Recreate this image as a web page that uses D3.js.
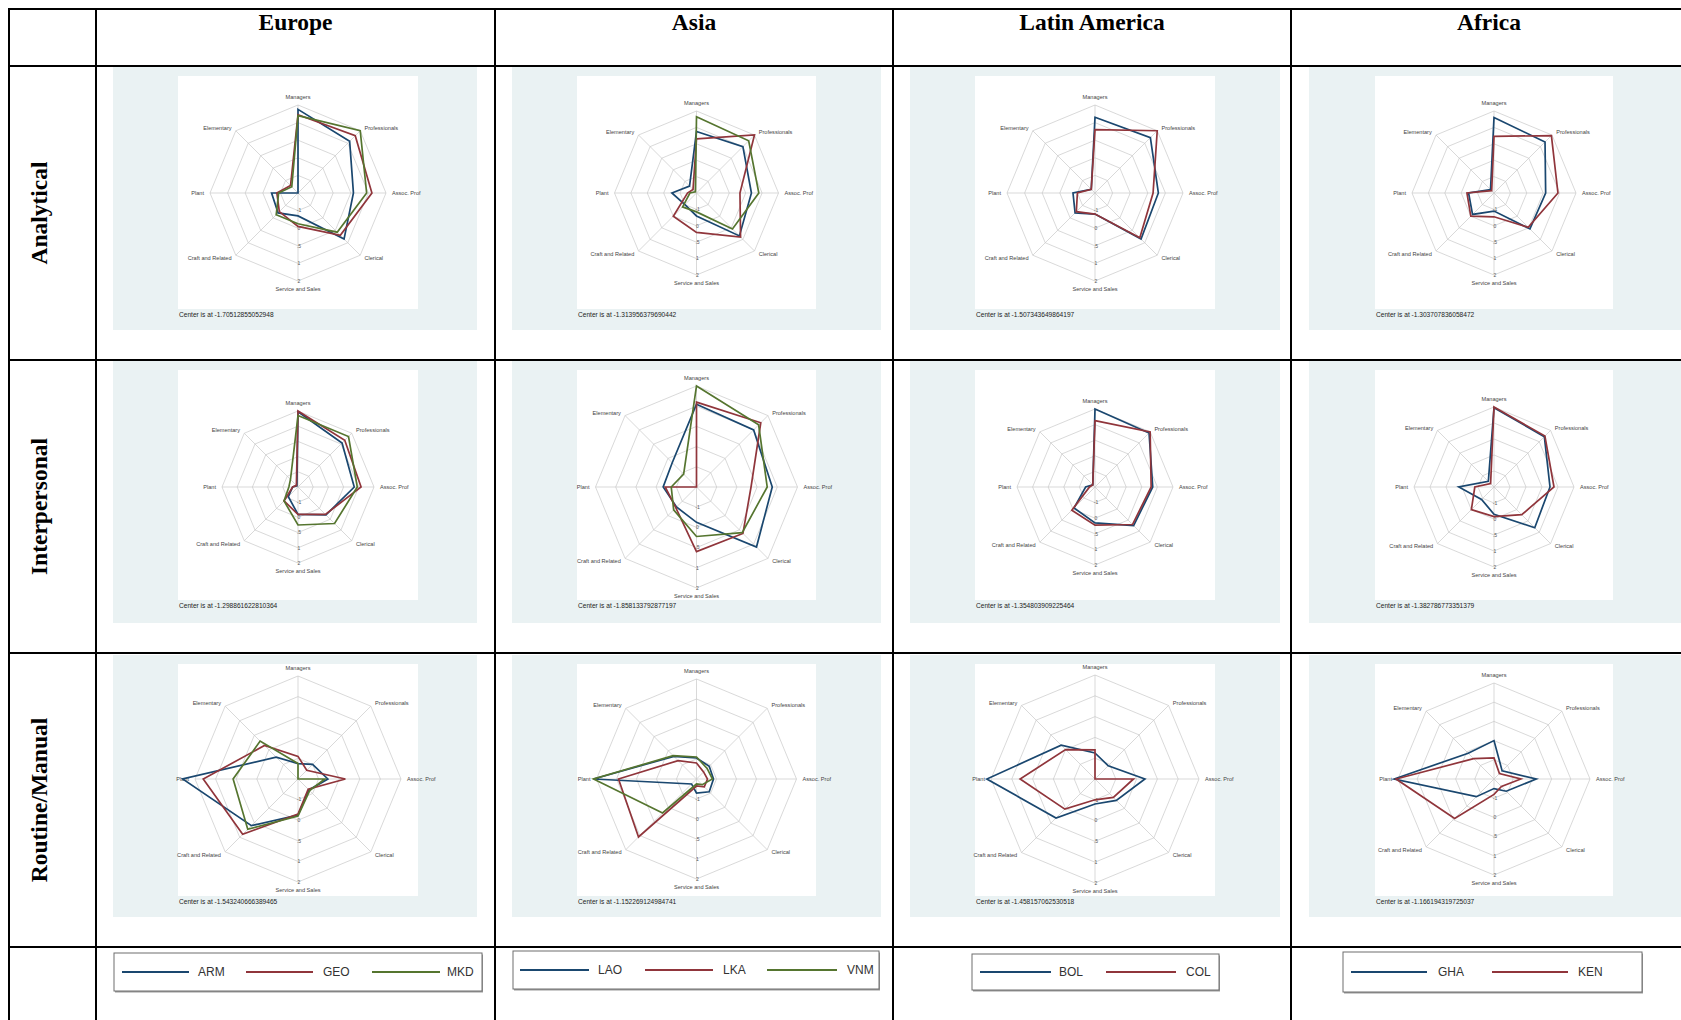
<!DOCTYPE html>
<html>
<head>
<meta charset="utf-8">
<script src="https://cdn.jsdelivr.net/npm/d3@7"></script>
<style>
  html, body { margin: 0; padding: 0; background: #ffffff; }
  svg { display: block; }
</style>
</head>
<body>
<svg id="chart" width="1681" height="1020"></svg>
<script>
// ---------------- DATA ----------------
const regions = ["Europe", "Asia", "Latin America", "Africa"];
const dimensions = ["Analytical", "Interpersonal", "Routine/Manual"];
const occupations = ["Managers", "Professionals", "Assoc. Prof", "Clerical",
                     "Service and Sales", "Craft and Related", "Plant", "Elementary"];
const ringLabels = ["-1", "0", ".5", "1", "2"];
const ringValues = [1, 2, 3, 4, 5];

const europeCountries = ["ARM", "GEO", "MKD"];
const asiaCountries = ["LAO", "LKA", "VNM"];
const latamCountries = ["BOL", "COL"];
const africaCountries = ["GHA", "KEN"];

// values in ring units (0 = centre, 5 = outer ring), order = occupations
const europeAnalytical = [
  [4.75, 4.15, 3.15, 3.7, 1.3, 1.6, 1.5, 0.0],
  [4.45, 4.6, 4.2, 3.4, 1.9, 1.5, 1.2, 0.6],
  [4.4, 5.0, 3.9, 3.15, 1.75, 1.75, 1.1, 0.5]
];
const europeInterpersonal = [
  [4.95, 4.1, 3.7, 2.6, 1.8, 0.9, 0.35, 0.1],
  [5.0, 4.35, 4.15, 2.55, 1.8, 1.3, 0.35, 0.15],
  [4.7, 4.7, 3.9, 3.4, 2.5, 1.3, 0.6, 0.7]
];
const europeRoutine = [
  [0.75, 1.0, 1.45, 0.75, 1.75, 3.2, 5.6, 1.5],
  [1.1, 0.6, 2.3, 0.7, 1.7, 3.8, 4.6, 2.3],
  [0.75, 0.0, 1.3, 0.8, 1.8, 3.45, 3.15, 2.6]
];
const asiaAnalytical = [
  [3.75, 4.0, 3.35, 3.7, 1.4, 1.0, 1.5, 0.6],
  [3.3, 5.0, 2.65, 3.8, 2.4, 2.0, 0.55, 0.3],
  [4.65, 4.5, 3.8, 3.1, 1.15, 1.2, 0.4, 0.1]
];
const asiaInterpersonal = [
  [4.1, 4.0, 3.75, 4.2, 1.75, 1.4, 1.65, 1.7],
  [4.2, 4.5, 2.7, 3.25, 3.2, 1.45, 1.55, 0.0],
  [5.0, 4.35, 3.5, 3.2, 2.45, 1.6, 1.25, 0.9]
];
const asiaRoutine = [
  [1.05, 0.9, 0.85, 0.9, 0.7, 0.35, 5.15, 1.6],
  [0.8, 0.5, 0.55, 0.55, 0.35, 4.1, 3.9, 1.3],
  [1.1, 0.75, 0.8, 0.4, 0.25, 2.4, 5.15, 1.65]
];
const latamAnalytical = [
  [4.3, 4.45, 3.6, 3.7, 1.2, 1.6, 1.25, 0.3],
  [3.6, 5.0, 3.3, 3.6, 1.2, 1.5, 1.0, 0.3]
];
const latamInterpersonal = [
  [5.0, 4.9, 3.7, 3.5, 2.3, 1.9, 0.6, 0.2],
  [4.25, 5.0, 3.6, 3.4, 2.45, 2.1, 0.35, 0.2]
];
const latamRoutine = [
  [1.25, 0.9, 2.4, 1.45, 1.2, 2.65, 5.2, 2.3],
  [1.4, 0.0, 1.85, 1.25, 1.0, 2.05, 3.6, 2.0]
];
const africaAnalytical = [
  [4.6, 4.4, 3.15, 3.1, 1.1, 1.85, 1.55, 0.3],
  [3.45, 4.95, 3.9, 2.95, 1.45, 2.0, 1.65, 0.2]
];
const africaInterpersonal = [
  [4.95, 4.45, 3.5, 3.6, 1.7, 1.1, 2.2, 0.5],
  [5.0, 4.5, 3.75, 2.45, 1.85, 2.0, 1.2, 0.3]
];
const africaRoutine = [
  [2.0, 0.6, 2.2, 0.9, 0.5, 1.3, 5.2, 1.9],
  [1.1, 0.4, 1.4, 0.55, 0.8, 2.9, 5.1, 1.5]
];

const europeCenters = ["-1.70512855052948", "-1.298861622810364", "-1.543240666389465"];
const asiaCenters = ["-1.313956379690442", "-1.858133792877197", "-1.152269124984741"];
const latamCenters = ["-1.507343649864197", "-1.354803909225464", "-1.458157062530518"];
const africaCenters = ["-1.303707836058472", "-1.382786773351379", "-1.166194319725037"];

// ---------------- ASSEMBLY ----------------
const regionCountries = [europeCountries, asiaCountries, latamCountries, africaCountries];
const regionPanels = [
  [europeAnalytical, europeInterpersonal, europeRoutine],
  [asiaAnalytical, asiaInterpersonal, asiaRoutine],
  [latamAnalytical, latamInterpersonal, latamRoutine],
  [africaAnalytical, africaInterpersonal, africaRoutine]
];
const regionCenters = [europeCenters, asiaCenters, latamCenters, africaCenters];

// ---------------- LAYOUT / STYLE ----------------
const colors = ["#1a476f", "#90353b", "#55752f"];
const colLines = [9, 96, 495, 893, 1291, 1687];
const rowLines = [9, 66, 360, 653, 947, 1040];
const greyX = [[113, 477], [512, 881], [910, 1280], [1309, 1700]];
const greyY = [[67, 330], [361, 623], [655, 917]];
const whiteX = [[178, 418], [577, 816], [975, 1215], [1375, 1613]];
const whiteY = [[76, 309], [370, 600], [664, 896]];
const radarCY = [193, 487, 779];
const radarR = [
  [88, 76, 103],
  [82, 101, 100],
  [88, 78, 104],
  [82, 80, 96]
];
const legendBoxes = [
  {box: [114, 953, 482, 991], y: 972, items: [[122, 189, 198], [246, 313, 323], [372, 440, 447]]},
  {box: [513, 951, 879, 989], y: 970, items: [[520, 589, 598], [645, 713, 723], [767, 837, 847]]},
  {box: [972, 954, 1219, 990], y: 972, items: [[980, 1051, 1059], [1106, 1176, 1186]]},
  {box: [1343, 952, 1642, 992], y: 972, items: [[1351, 1427, 1438], [1492, 1568, 1578]]}
];

const svg = d3.select("#chart");
const sans = "'Liberation Sans', Arial, sans-serif";
const serif = "'Liberation Serif', 'Times New Roman', serif";

// grey panels and white plot regions
regions.forEach((reg, c) => {
  dimensions.forEach((dim, r) => {
    svg.append("rect")
      .attr("x", greyX[c][0]).attr("y", greyY[r][0])
      .attr("width", greyX[c][1] - greyX[c][0]).attr("height", greyY[r][1] - greyY[r][0])
      .attr("fill", "#eaf2f3");
    svg.append("rect")
      .attr("x", whiteX[c][0]).attr("y", whiteY[r][0])
      .attr("width", whiteX[c][1] - whiteX[c][0]).attr("height", whiteY[r][1] - whiteY[r][0])
      .attr("fill", "#ffffff");
  });
});

// radar charts
const nAx = occupations.length;
const angle = i => i * 2 * Math.PI / nAx;

regions.forEach((reg, c) => {
  dimensions.forEach((dim, r) => {
    const cx = (whiteX[c][0] + whiteX[c][1]) / 2;
    const cy = radarCY[r];
    const R = radarR[c][r];
    const rScale = d3.scaleLinear().domain([0, 5]).range([0, R]);
    const g = svg.append("g").attr("transform", `translate(${cx},${cy})`);
    const px = (v, i) => rScale(v) * Math.sin(angle(i));
    const py = (v, i) => -rScale(v) * Math.cos(angle(i));
    const ringLine = d3.line()
      .x((d, i) => px(d, i)).y((d, i) => py(d, i))
      .curve(d3.curveLinearClosed);

    // rings
    ringValues.forEach(rv => {
      g.append("path")
        .attr("d", ringLine(occupations.map(() => rv)))
        .attr("fill", "none").attr("stroke", "#c9c9c9").attr("stroke-width", 0.7);
    });
    // spokes
    occupations.forEach((o, i) => {
      g.append("line")
        .attr("x1", 0).attr("y1", 0)
        .attr("x2", px(5, i)).attr("y2", py(5, i))
        .attr("stroke", "#c9c9c9").attr("stroke-width", 0.7);
    });
    // ring labels along the Service and Sales axis
    ringValues.forEach((rv, k) => {
      g.append("text")
        .attr("x", 1).attr("y", rScale(rv))
        .attr("dy", "0.35em")
        .attr("text-anchor", "middle")
        .attr("font-family", sans).attr("font-size", 5)
        .attr("fill", "#555")
        .text(ringLabels[k]);
    });
    // occupation labels
    occupations.forEach((o, i) => {
      const a = angle(i);
      const sx = Math.sin(a), sy = -Math.cos(a);
      let x = px(5, i), y = py(5, i), anchor = "middle";
      if (Math.abs(sx) < 0.01) { y += sy * 8; }
      else if (Math.abs(sy) < 0.01) { x += sx * 6; anchor = sx > 0 ? "start" : "end"; }
      else { x += sx * 6; y += sy * 4; anchor = sx > 0 ? "start" : "end"; }
      g.append("text")
        .attr("x", x).attr("y", y).attr("dy", "0.35em")
        .attr("text-anchor", anchor)
        .attr("font-family", sans).attr("font-size", 5.6)
        .attr("fill", "#444")
        .text(o);
    });
    // series
    const series = regionPanels[c][r];
    series.forEach((vals, s) => {
      g.append("path")
        .attr("d", ringLine(vals))
        .attr("fill", "none")
        .attr("stroke", colors[s])
        .attr("stroke-width", 1.7)
        .attr("stroke-linejoin", "miter");
    });
    // note
    svg.append("text")
      .attr("x", whiteX[c][0] + 1).attr("y", whiteY[r][1] + 6)
      .attr("dy", "0.35em")
      .attr("font-family", sans).attr("font-size", 6.6)
      .attr("fill", "#222")
      .text("Center is at " + regionCenters[c][r]);
  });
});

// legends
regions.forEach((reg, c) => {
  const L = legendBoxes[c];
  const [x0, y0, x1, y1] = L.box;
  svg.append("rect")
    .attr("x", x0 + 1).attr("y", y0 + 1.5)
    .attr("width", x1 - x0).attr("height", y1 - y0)
    .attr("fill", "#9a9a9a");
  svg.append("rect")
    .attr("x", x0).attr("y", y0)
    .attr("width", x1 - x0).attr("height", y1 - y0)
    .attr("fill", "#ffffff").attr("stroke", "#6e6e6e").attr("stroke-width", 1);
  regionCountries[c].forEach((name, s) => {
    const it = L.items[s];
    svg.append("line")
      .attr("x1", it[0]).attr("x2", it[1]).attr("y1", L.y).attr("y2", L.y)
      .attr("stroke", colors[s]).attr("stroke-width", 2.2);
    svg.append("text")
      .attr("x", it[2]).attr("y", L.y).attr("dy", "0.36em")
      .attr("font-family", sans).attr("font-size", 12)
      .attr("fill", "#333")
      .text(name);
  });
});

// table grid
colLines.forEach(x => {
  svg.append("line").attr("x1", x).attr("x2", x)
    .attr("y1", rowLines[0] - 1).attr("y2", 1040)
    .attr("stroke", "#000").attr("stroke-width", 2);
});
rowLines.forEach(y => {
  svg.append("line").attr("x1", colLines[0] - 1).attr("x2", 1700)
    .attr("y1", y).attr("y2", y)
    .attr("stroke", "#000").attr("stroke-width", 2);
});

// column headers
regions.forEach((reg, c) => {
  svg.append("text")
    .attr("x", (colLines[c + 1] + colLines[c + 2]) / 2).attr("y", 30)
    .attr("text-anchor", "middle")
    .attr("font-family", serif).attr("font-weight", "bold").attr("font-size", 23.5)
    .attr("fill", "#000")
    .text(reg);
});
// row headers
dimensions.forEach((dim, r) => {
  const yc = (rowLines[r + 1] + rowLines[r + 2]) / 2;
  svg.append("text")
    .attr("transform", `translate(39,${yc}) rotate(-90)`)
    .attr("text-anchor", "middle").attr("dy", "0.35em")
    .attr("font-family", serif).attr("font-weight", "bold").attr("font-size", 23.5)
    .attr("fill", "#000")
    .text(dim);
});
</script>
</body>
</html>
